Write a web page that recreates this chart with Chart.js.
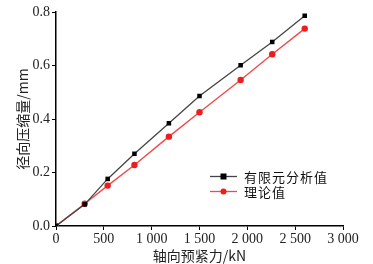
<!DOCTYPE html>
<html>
<head>
<meta charset="utf-8">
<script src="https://cdn.jsdelivr.net/npm/chart.js@4/dist/chart.umd.min.js"></script>
<style>
  html, body { margin: 0; padding: 0; background: #fff; }
  #wrap { width: 373px; height: 264px; }
</style>
</head>
<body>
<div id="wrap"><canvas id="chart"></canvas></div>
<script>
const preload = [0, 300, 540, 820, 1180, 1500, 1930, 2260, 2600];
const fem_values = [0, 0.081, 0.176, 0.270, 0.384, 0.486, 0.601, 0.688, 0.786];
const theory_values = [0, 0.083, 0.151, 0.228, 0.334, 0.425, 0.546, 0.642, 0.738];
const series_labels = ["有限元分析值", "理论值"];
const x_title = "轴向预紧力/kN";
const y_title = "径向压缩量/mm";

const serif = "'Liberation Serif', 'Noto Sans CJK SC', serif";
const cjk = "'Noto Sans CJK SC', 'Liberation Serif', serif";

// legend drawn inside the plot, lower right
const insideLegend = {
  id: "insideLegend",
  afterDraw(chart) {
    const ctx = chart.ctx;
    const x0 = 210, x1 = 237, tx = 244;
    const rows = [176.5, 191.5];
    chart.data.datasets.forEach((ds, i) => {
      const y = rows[i];
      ctx.save();
      ctx.strokeStyle = ds.borderColor;
      ctx.lineWidth = 1.3;
      ctx.beginPath();
      ctx.moveTo(x0, y);
      ctx.lineTo(x1, y);
      ctx.stroke();
      ctx.fillStyle = ds.pointBackgroundColor;
      if (ds.pointStyle === "rect") {
        ctx.fillRect((x0 + x1) / 2 - 3, y - 3, 6, 6);
      } else {
        ctx.beginPath();
        ctx.arc((x0 + x1) / 2, y, 3, 0, Math.PI * 2);
        ctx.fill();
      }
      ctx.fillStyle = "#111";
      ctx.font = "13px " + cjk;
      ctx.textBaseline = "middle";
      ctx.letterSpacing = "1px";
      ctx.fillText(ds.label, tx, y + 1);
      ctx.restore();
    });
  }
};

const ctx = document.getElementById("chart").getContext("2d");

const chart = new Chart(ctx, {
  type: "line",
  data: {
    datasets: [
      {
        label: series_labels[0],
        data: preload.map((x, i) => ({ x: x, y: fem_values[i] })),
        borderColor: "#444444",
        borderWidth: 1.3,
        pointStyle: "rect",
        pointRadius: 3.2,
        pointBackgroundColor: "#000000",
        pointBorderWidth: 0,
        tension: 0
      },
      {
        label: series_labels[1],
        data: preload.map((x, i) => ({ x: x, y: theory_values[i] })),
        borderColor: "#f04a4a",
        borderWidth: 1.4,
        pointStyle: "circle",
        pointRadius: 3.2,
        pointBackgroundColor: "#ee1c1c",
        pointBorderWidth: 0,
        tension: 0
      }
    ]
  },
  options: {
    responsive: true,
    maintainAspectRatio: false,
    animation: false,
    layout: { padding: { top: 12, right: 30, left: 14, bottom: 0 } },
    plugins: {
      legend: { display: false },
      tooltip: { enabled: false }
    },
    scales: {
      x: {
        type: "linear",
        min: 0,
        max: 3000,
        afterFit: (scale) => { scale.height = 38; },
        grid: { drawOnChartArea: false, drawTicks: true, tickLength: 4, color: "#000" },
        border: { display: true, color: "#000", width: 1.5 },
        ticks: {
          stepSize: 500,
          padding: 1,
          color: "#222",
          maxRotation: 0,
          font: { size: 14, family: serif },
          callback: (v) => v >= 1000 ? Math.floor(v / 1000) + " " + String(v % 1000).padStart(3, "0") : String(v)
        },
        title: {
          display: true,
          text: x_title,
          color: "#222",
          padding: { top: 0, bottom: 0 },
          font: { size: 14, family: cjk }
        }
      },
      y: {
        min: 0,
        max: 0.8,
        afterFit: (scale) => { scale.width = 42; },
        grid: { drawOnChartArea: false, drawTicks: true, tickLength: 4, color: "#000" },
        border: { display: true, color: "#000", width: 1.5 },
        ticks: {
          stepSize: 0.2,
          padding: 2,
          color: "#222",
          font: { size: 14, family: serif },
          callback: (v) => v.toFixed(1)
        },
        title: {
          display: true,
          text: y_title,
          color: "#222",
          padding: { top: 0, bottom: 0 },
          font: { size: 14, family: cjk }
        }
      }
    }
  },
  plugins: [insideLegend]
});
</script>
</body>
</html>
